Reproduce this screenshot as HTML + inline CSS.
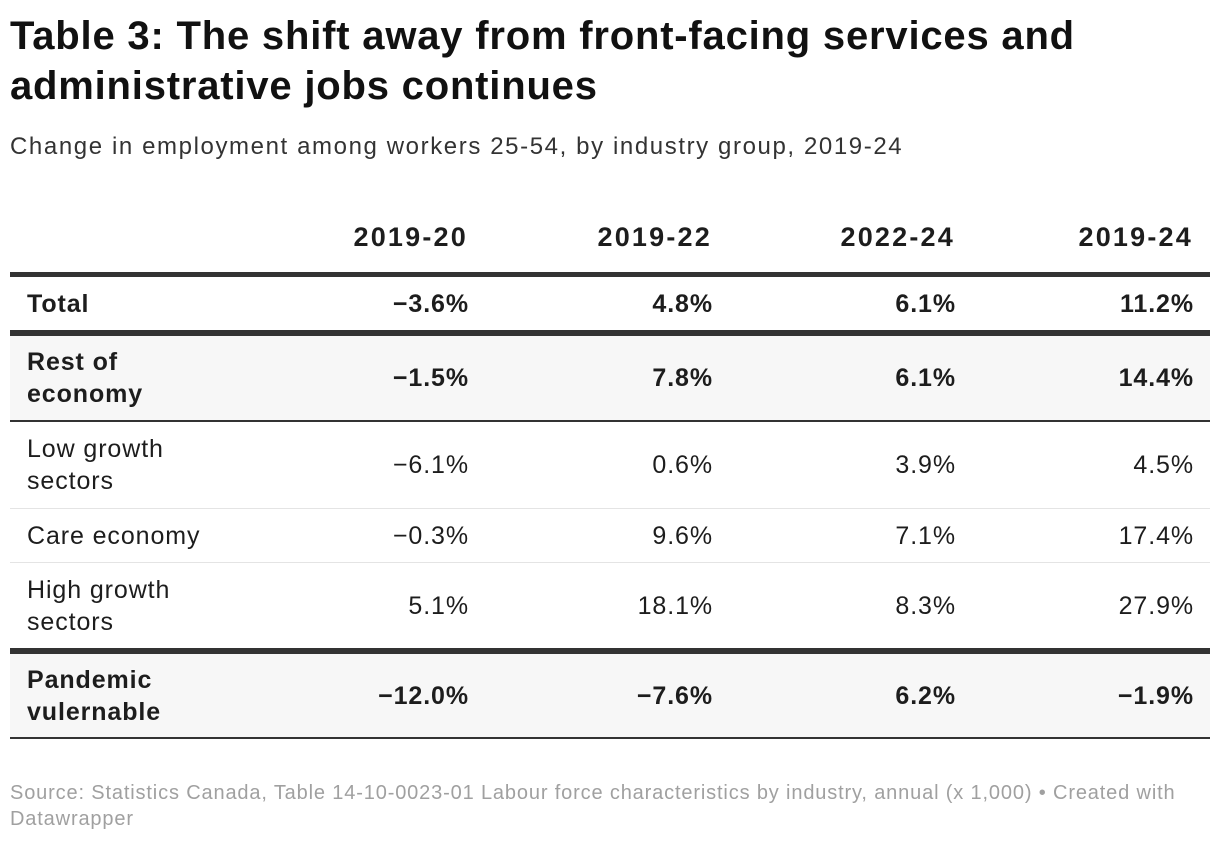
<!DOCTYPE html>
<html><head><meta charset="utf-8"><style>
body{margin:0;width:1220px;height:842px;background:#fff;font-family:"Liberation Sans",Arial,sans-serif;color:#1d1d1d;position:relative;overflow:hidden}
.a{position:absolute}
h1{position:absolute;left:10px;top:11px;margin:0;font-size:40px;line-height:50px;font-weight:bold;letter-spacing:0.8px;color:#111}
.sub{left:10px;top:133px;font-size:24px;color:#333;letter-spacing:1.6px}
.row{position:absolute;left:10px;width:1200px}
.lbl{position:absolute;left:17px;font-size:25px;line-height:32px;letter-spacing:0.9px}
.v{position:absolute;font-size:25px;text-align:right;width:200px;letter-spacing:0.9px}
.b{font-weight:bold}
.foot{left:10px;top:780px;font-size:20px;line-height:26px;color:#a0a0a0;width:1190px;letter-spacing:0.85px}
</style></head><body>
<h1>Table 3: The shift away from front-facing services and<br>administrative jobs continues</h1>
<div class="a sub">Change in employment among workers 25-54, by industry group, 2019-24</div>
<div id="tbl"></div>
<div class="a foot">Source: Statistics Canada, Table 14-10-0023-01 Labour force characteristics by industry, annual (x 1,000) • Created with Datawrapper</div>
<script>
const headers=["2019-20","2019-22","2022-24","2019-24"];
const labels=[["Total"],["Rest of","economy"],["Low growth","sectors"],["Care economy"],["High growth","sectors"],["Pandemic","vulernable"]];
const values=[["−3.6%","4.8%","6.1%","11.2%"],["−1.5%","7.8%","6.1%","14.4%"],["−6.1%","0.6%","3.9%","4.5%"],["−0.3%","9.6%","7.1%","17.4%"],["5.1%","18.1%","8.3%","27.9%"],["−12.0%","−7.6%","6.2%","−1.9%"]];
const bold=[1,1,0,0,0,1];
const tops=[278,336,422,509,563,654],bots=[330,420,508,562,648,737];
const bgs=["#fff","#f7f7f7","#fff","#fff","#fff","#f7f7f7"];
const rights=[468,712,955,1193];
const t=document.getElementById('tbl');
headers.forEach((h,i)=>{const d=document.createElement('div');d.className='v b';d.style.top='222px';d.style.left=(rights[i]-200)+'px';d.style.fontSize='27px';d.style.letterSpacing='2.2px';d.textContent=h;


t.appendChild(d);});
function line(y,h,c){const d=document.createElement('div');d.className='row';d.style.top=y+'px';d.style.height=h+'px';d.style.background=c;


t.appendChild(d);}
line(272,5,'#333');
labels.forEach((l,r)=>{
 const row=document.createElement('div');row.className='row';row.style.top=tops[r]+'px';row.style.height=(bots[r]-tops[r])+'px';row.style.background=bgs[r];
 
 
 t.appendChild(row);
 const h=bots[r]-tops[r];
 const lb=document.createElement('div');lb.className='lbl'+(bold[r]?' b':'');lb.innerHTML=l.join('<br>');lb.style.top=((h-32*l.length)/2)+'px';
 
 
 row.appendChild(lb);
 values[r].forEach((v,c)=>{const d=document.createElement('div');d.className='v'+(bold[r]?' b':'');d.style.left=(rights[c]-209)+'px';d.style.top=((h-28)/2)+'px';d.textContent=v;
 
 
 row.appendChild(d);});
});
line(330,6,'#333');line(420,2,'#333');line(508,1,'#e4e4e4');line(562,1,'#e4e4e4');line(648,6,'#333');line(737,2,'#333');
</script>
</body></html>
